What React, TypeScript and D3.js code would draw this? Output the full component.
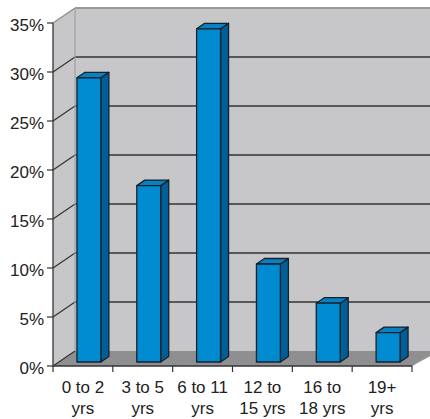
import React from "react";
import * as d3 from "d3";

const categories = ["0 to 2|yrs", "3 to 5|yrs", "6 to 11|yrs", "12 to|15 yrs", "16 to|18 yrs", "19+|yrs"];
const values = [29, 18, 34, 10, 6, 3];
const yTicks = [0, 5, 10, 15, 20, 25, 30, 35];

const W = 430, H = 419;
const x0 = 53, x1 = 412, yBottom = 366, yTop = 23;
const DX = 22, DY = -15; // wall depth
const BDX = 8, BDY = -5.5; // bar depth
const BOX = 6, BOY = -4; // bar position in depth

export default function App() {
  const x = d3.scaleBand<string>().domain(categories).range([x0, x1]).paddingInner(0.6).paddingOuter(0.3);
  const y = d3.scaleLinear().domain([0, 35]).range([yBottom, yTop]);
  const step = x.step();
  const bw = x.bandwidth();
  const font = "'Liberation Sans', Arial, sans-serif";

  return (
    <svg width={W} height={H} style={{ position: "absolute", left: 0, top: 0 }} fontFamily={font}>
      {/* back wall */}
      <rect x={x0 + DX} y={y(35) + DY} width={W - x0 - DX + 10} height={y(0) - y(35)} fill="#c7c7c9" />
      {/* left side wall */}
      <path d={`M${x0},${y(35)}L${x0 + DX},${y(35) + DY}L${x0 + DX},${y(0) + DY}L${x0},${y(0)}Z`} fill="#c7c7c9" />
      {/* floor */}
      <path d={`M${x0},${y(0)}L${x0 + DX},${y(0) + DY}L${W + 10},${y(0) + DY}L${x1 + 10 * DX / DX * 0 + 0},${y(0)}Z`} fill="#8f8f91" />
      <path d={`M${x1},${y(0)}L${x1 + DX},${y(0) + DY}`} stroke="#9a9a9a" strokeWidth={1} />
      {/* gridlines */}
      {yTicks.map((t) => (
        <g key={t}>
          {t > 0 && t < 35 && (
            <line x1={x0 + DX} x2={W} y1={y(t) + DY} y2={y(t) + DY} stroke="#333" strokeWidth={1.3} />
          )}
          <line x1={x0} x2={x0 + DX} y1={y(t)} y2={y(t) + DY} stroke={t === 35 ? "#8a8a8a" : "#333"} strokeWidth={1.2} />
          <line x1={x0 - 6} x2={x0} y1={y(t)} y2={y(t)} stroke="#333" strokeWidth={1.2} />
          <text x={44} y={y(t) + 7.5} fontSize={17} textAnchor="end" fill="#222">{`${t}%`}</text>
        </g>
      ))}
      {/* top edge and back vertical edge */}
      <line x1={x0 + DX} x2={W} y1={y(35) + DY} y2={y(35) + DY} stroke="#999" strokeWidth={2} />
      <line x1={x0 + DX} x2={x0 + DX} y1={y(35) + DY} y2={y(0) + DY} stroke="#a0a0a0" strokeWidth={1.2} />
      {/* bars */}
      {categories.map((c, i) => {
        const bx = (x(c) as number) + BOX;
        const by0 = y(0) + BOY;
        const byt = y(values[i]) + BOY;
        return (
          <g key={c} stroke="#16222b" strokeWidth={1.3} strokeLinejoin="round">
            <path d={`M${bx + bw},${byt}L${bx + bw + BDX},${byt + BDY}L${bx + bw + BDX},${by0 + BDY}L${bx + bw},${by0}Z`} fill="#005e98" />
            <path d={`M${bx},${byt}L${bx + BDX},${byt + BDY}L${bx + bw + BDX},${byt + BDY}L${bx + bw},${byt}Z`} fill="#0a7fc2" />
            <rect x={bx} y={byt} width={bw} height={by0 - byt} fill="#008bd0" />
          </g>
        );
      })}
      {/* axes */}
      <line x1={x0} x2={x0} y1={y(35)} y2={y(0)} stroke="#333" strokeWidth={1.3} />
      <line x1={x0} x2={x1} y1={y(0)} y2={y(0)} stroke="#333" strokeWidth={1.3} />
      {d3.range(categories.length + 1).map((i) => (
        <line key={i} x1={x0 + i * (x1 - x0) / categories.length} x2={x0 + i * (x1 - x0) / categories.length} y1={y(0)} y2={y(0) + 6} stroke="#333" strokeWidth={1.2} />
      ))}
      {categories.map((c) => {
        const cx = (x(c) as number) + bw / 2;
        const lines = c.split("|");
        return (
          <text key={c} x={cx} fontSize={17} textAnchor="middle" fill="#222">
            <tspan x={cx} y={393}>{lines[0]}</tspan>
            <tspan x={cx} y={414}>{lines[1]}</tspan>
          </text>
        );
      })}
    </svg>
  );
}
